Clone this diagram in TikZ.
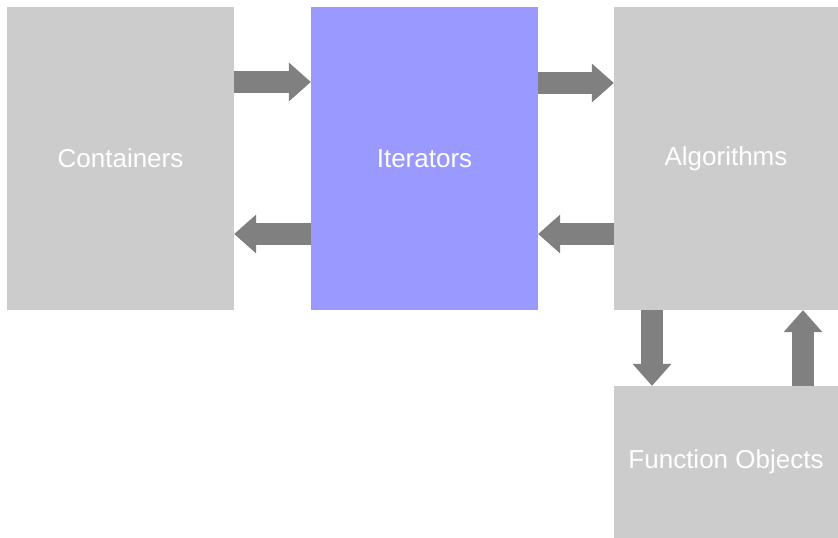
\documentclass[tikz,border=0pt]{standalone}
\usepackage{fontspec}
\setmainfont{Liberation Sans}
\usetikzlibrary{arrows.meta,calc}
\definecolor{boxgray}{HTML}{CCCCCC}
\definecolor{iterblue}{HTML}{9999FF}
\definecolor{arrowgray}{HTML}{808080}
\tikzset{
  block/.style={draw=none, fill=boxgray, text=white, inner sep=0pt,
    font=\fontsize{26}{31}\selectfont},
  fat/.style={draw=arrowgray, line width=22pt, line cap=butt,
    -{Triangle[width=39pt,length=22pt,line width=0pt,fill=arrowgray]}}
}
\begin{document}
\begin{tikzpicture}[x=1pt,y=1pt]
\useasboundingbox (0,0) rectangle (838,538);
% the four component blocks
\node[block, minimum width=227pt, minimum height=303pt] (cont) at (120.5,379.5) {Containers};
\node[block, fill=iterblue, minimum width=227pt, minimum height=303pt] (iter) at (424.5,379.5) {Iterators};
\node[block, minimum width=224pt, minimum height=303pt] (alg) at (726,379.5) {\raisebox{3pt}{Algorithms}};
\node[block, minimum width=224pt, minimum height=152pt] (fo) at (726,76) {Function Objects};
% horizontal links
\draw[fat] (cont.east |- 0,456) -- (iter.west |- 0,456);
\draw[fat] (iter.west |- 0,304) -- (cont.east |- 0,304);
\draw[fat] (iter.east |- 0,455) -- (alg.west |- 0,455);
\draw[fat] (alg.west |- 0,304) -- (iter.east |- 0,304);
% vertical links
\draw[fat] (alg.south -| 652,0) -- (fo.north -| 652,0);
\draw[fat] (fo.north -| 803,0) -- (alg.south -| 803,0);
\end{tikzpicture}
\end{document}
